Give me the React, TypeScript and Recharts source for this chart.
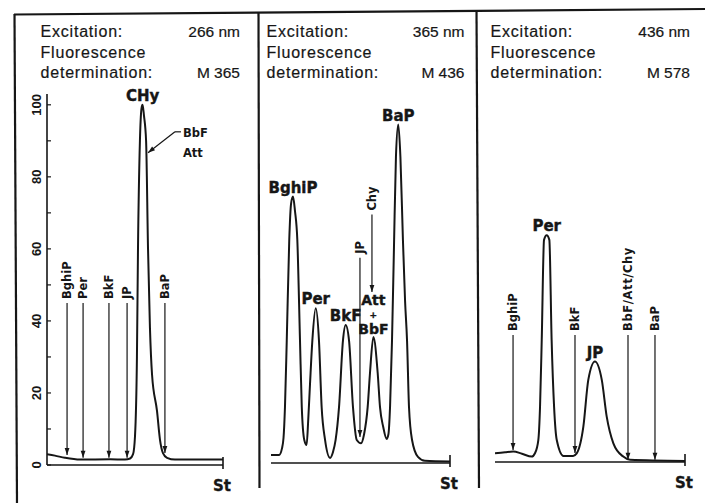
import React from "react";
import { LineChart, Line, XAxis, YAxis, ReferenceLine, ReferenceDot } from "recharts";

const INK = "#161616";
const HEAD_FONT = "'Liberation Sans', Arial, sans-serif";
const TAG_FONT = "'DejaVu Sans', sans-serif";

// header texts of the three runs
const excitation = ["266 nm", "365 nm", "436 nm"];
const emission = ["M 365", "M 436", "M 578"];

// intensity scale (left panel only)
const scaleTicks = [0, 10, 20, 30, 40, 50, 60, 70, 80, 90, 100];

// run A: excitation 266 nm (relative position 0..100 along the plate, intensity %)
const posA = [0, 4.5, 10.2, 18.8, 35.8, 44.3, 47.2, 48.9, 50.0, 51.1, 51.7, 52.8, 53.7, 54.3, 55.1, 56.3, 57.4, 58.5, 59.7, 62.5, 64.2, 65.9, 68.2, 72.7, 100];
const sigA = [3, 2.6, 2.0, 1.5, 1.6, 1.5, 1.8, 3, 8, 30, 60, 90, 99, 100, 97, 90, 60, 38, 25, 15, 7, 3.3, 2, 1.5, 1.5];

// run B: excitation 365 nm
const posB = [0, 4.5, 6.1, 7.0, 7.8, 8.8, 10.2, 11.2, 12.3, 13.4, 14.7, 16.2, 17.2, 18.6, 19.9, 20.8, 21.8, 23.1, 25.0, 26.8, 28.3, 30.2, 33.0, 34.6, 36.1, 38.0, 40.2, 41.7, 43.6, 45.8, 47.9, 50.3, 52.0, 54.0, 55.3, 57.2, 59.6, 60.9, 62.7, 64.6, 65.6, 66.5, 67.6, 68.7, 69.8, 71.1, 72.3, 73.7, 74.9, 76.0, 77.1, 78.8, 82.1, 86.0, 100];
const sigB = [2.2, 2.2, 4, 7, 15.5, 34, 62, 72, 74, 70, 62, 34, 15.5, 6.4, 5, 12, 22, 34, 43, 34, 15.5, 6.4, 1.4, 3, 6.4, 15.5, 34, 38.3, 34, 15.5, 6.4, 5.5, 8, 15.5, 25, 35, 25, 15.5, 10, 6.7, 8, 15.5, 34, 60, 85, 94, 85, 62, 45, 34, 15.5, 6.4, 1.7, 0.6, 0.4];

// run C: excitation 436 nm
const posC = [0, 5.3, 9.6, 14.2, 19.3, 21.1, 22.8, 23.7, 24.6, 25.8, 27.2, 28.6, 29.8, 31.1, 32.5, 36.0, 41.1, 43.0, 46.5, 49.1, 52.6, 56.2, 58.8, 62.3, 67.5, 71.1, 100];
const sigC = [2.4, 2.7, 2.9, 2.3, 1.5, 2.5, 6.1, 15.3, 34, 61.7, 63, 61.7, 34, 15.3, 6.1, 1.7, 1.7, 2.4, 9.8, 22.8, 27.9, 22.8, 12.6, 5.2, 1.5, 0.6, 0.3];

// expected positions of compounds (arrows): position, arrow start, arrow tip
const markersA = [
  { name: "BghiP", x: 11.4, from: 45, to: 2.8 },
  { name: "Per", x: 20.5, from: 45, to: 2.0 },
  { name: "BkF", x: 35.2, from: 45, to: 2.0 },
  { name: "JP", x: 45.5, from: 45, to: 2.0 },
  { name: "BaP", x: 67.0, from: 45, to: 3.3 },
];
const markersB = [
  { name: "JP", x: 49.7, from: 57, to: 7.2 },
  { name: "Chy", x: 56.4, from: 69, to: 47.5 },
];
const markersC = [
  { name: "BghiP", x: 9.5, from: 35.3, to: 3.3 },
  { name: "BkF", x: 42.1, from: 35.3, to: 2.5 },
  { name: "BbF/Att/Chy", x: 70.0, from: 35.3, to: 0.6 },
  { name: "BaP", x: 84.2, from: 35.3, to: 0.6 },
];

// identified peaks
const peaksA = [{ lines: ["CHy"], x: 54.3, y: 100 }];
const peaksB = [
  { lines: ["BghiP"], x: 12.3, y: 74 },
  { lines: ["Per"], x: 25.0, y: 43 },
  { lines: ["BkF"], x: 41.7, y: 38.3 },
  { lines: ["Att", "+", "BbF"], x: 57.2, y: 35 },
  { lines: ["BaP"], x: 71.1, y: 94 },
];
const peaksC = [
  { lines: ["Per"], x: 27.2, y: 63 },
  { lines: ["JP"], x: 52.6, y: 27.9 },
];

// shoulder note on run A
const noteA = { lines: ["BbF", "Att"], start: { x: 76.1, y: 92.5 }, bend: { x: 72.7, y: 92.5 }, tip: { x: 57.4, y: 86.7 } };

const toRows = (pos: number[], sig: number[]) => pos.map((t, i) => ({ t, v: sig[i] }));

function headPath(x1: number, y1: number, x2: number, y2: number, len = 7, half = 2.4) {
  const a = Math.atan2(y2 - y1, x2 - x1);
  const bx = x2 - len * Math.cos(a);
  const by = y2 - len * Math.sin(a);
  const px = -Math.sin(a) * half;
  const py = Math.cos(a) * half;
  return `M${x2},${y2}L${bx + px},${by + py}L${bx - px},${by - py}Z`;
}

function Pointer(props: any) {
  const { x1, y1, x2, y2, text, head = true } = props;
  if (x1 == null || y1 == null) return <g />;
  return (
    <g>
      <line x1={x1} y1={y1} x2={x2} y2={y2} stroke={INK} strokeWidth={1.2} />
      {head && <path d={headPath(x1, y1, x2, y2)} fill={INK} />}
      {text && (
        <text
          transform={`translate(${x1},${y1 - 4}) rotate(-90)`}
          dy="0.36em"
          fontFamily={TAG_FONT}
          fontWeight={700}
          fontSize={11.5}
          letterSpacing={text.length > 6 ? 0.6 : 0}
          fill={INK}
        >
          {text}
        </text>
      )}
    </g>
  );
}

function PeakName({ cx, cy, lines }: any) {
  const n = lines.length;
  if (n === 1) {
    return (
      <text x={cx} y={cy - 4} textAnchor="middle" fontFamily={TAG_FONT} fontWeight={700} fontSize={15} fill={INK} stroke={INK} strokeWidth={0.4}>
        {lines[0]}
      </text>
    );
  }
  // stacked: top name, small plus, bottom name
  const ys = [cy - 32, cy - 19.5, cy - 3];
  return (
    <g>
      {lines.map((s: string, i: number) => (
        <text
          key={i}
          x={cx}
          y={ys[i]}
          textAnchor="middle"
          fontFamily={TAG_FONT}
          fontWeight={700}
          fontSize={s === "+" ? 9 : 14}
          fill={INK}
          stroke={INK}
          strokeWidth={0.4}
        >
          {s}
        </text>
      ))}
    </g>
  );
}

function EndTick({ x, y }: any) {
  return (
    <g>
      <line x1={x} y1={y - 8} x2={x} y2={y + 4} stroke={INK} strokeWidth={1.6} />
      <text x={x - 1} y={y + 26} textAnchor="middle" fontFamily={TAG_FONT} fontWeight={700} fontSize={15} fill={INK} stroke={INK} strokeWidth={0.3}>
        St
      </text>
    </g>
  );
}

function ScaleTick({ x, y, payload }: any) {
  return (
    <g>
      <line x1={x} y1={y} x2={x + 4} y2={y} stroke={INK} strokeWidth={1.2} />
      {payload.value % 20 === 0 && (
        <text
          transform={`translate(${x - 11},${y}) rotate(-90)`}
          textAnchor="middle"
          dy="0.36em"
          fontFamily={HEAD_FONT}
          fontWeight={700}
          fontSize={13}
          fill={INK}
        >
          {payload.value}
        </text>
      )}
    </g>
  );
}

type Marker = { name: string; x: number; from: number; to: number };
type Peak = { lines: string[]; x: number; y: number };

function Run(props: {
  rows: { t: number; v: number }[];
  markers: Marker[];
  peaks: Peak[];
  left: number;
  width: number;
  margin: { top: number; right: number; bottom: number; left: number };
  yMax: number;
  showScale?: boolean;
  note?: typeof noteA;
}) {
  const { rows, markers, peaks, left, width, margin, yMax, showScale, note } = props;
  return (
    <div style={{ position: "absolute", left, top: 0 }}>
      <LineChart width={width} height={503} data={rows} margin={margin}>
        <XAxis
          type="number"
          dataKey="t"
          domain={[0, 100]}
          ticks={[100]}
          interval={0}
          tickSize={0}
          tickMargin={0}
          tickLine={false}
          height={30}
          axisLine={{ stroke: INK, strokeWidth: 1.6 }}
          tick={(p: any) => <EndTick {...p} />}
          allowDataOverflow
        />
        {showScale ? (
          <YAxis
            type="number"
            domain={[0, yMax]}
            ticks={scaleTicks}
            interval={0}
            tickSize={0}
            tickMargin={0}
            tickLine={false}
            width={30}
            axisLine={{ stroke: INK, strokeWidth: 1.6 }}
            tick={(p: any) => <ScaleTick {...p} />}
            allowDataOverflow
          />
        ) : (
          <YAxis type="number" domain={[0, yMax]} hide allowDataOverflow />
        )}
        <Line type="monotone" dataKey="v" stroke={INK} strokeWidth={2} dot={false} isAnimationActive={false} />
        {markers.map((m) => (
          <ReferenceLine
            key={m.name}
            segment={[
              { x: m.x, y: m.from },
              { x: m.x, y: m.to },
            ]}
            stroke={INK}
            shape={(p: any) => <Pointer {...p} text={m.name} />}
          />
        ))}
        {note && (
          <ReferenceLine
            segment={[note.start, note.bend]}
            stroke={INK}
            shape={(p: any) => (
              <g>
                <Pointer {...p} head={false} />
                {note.lines.map((s, i) => (
                  <text
                    key={s}
                    x={p.x1 + 2}
                    y={p.y1 + 5 + i * 20}
                    fontFamily={TAG_FONT}
                    fontWeight={700}
                    fontSize={11.5}
                    fill={INK}
                  >
                    {s}
                  </text>
                ))}
              </g>
            )}
          />
        )}
        {note && (
          <ReferenceLine segment={[note.bend, note.tip]} stroke={INK} shape={(p: any) => <Pointer {...p} />} />
        )}
        {peaks.map((p) => (
          <ReferenceDot
            key={p.lines.join("")}
            x={p.x}
            y={p.y}
            r={0}
            shape={(d: any) => <PeakName cx={d.cx} cy={d.cy} lines={p.lines} />}
          />
        ))}
      </LineChart>
    </div>
  );
}

function Frame() {
  const lefts = [40.5, 266.5, 490.5];
  const rights = [240, 464.5, 690];
  const base = [37, 57.5, 78];
  const common = { fontFamily: HEAD_FONT, fontSize: 16, fill: INK, stroke: INK, strokeWidth: 0.2 };
  return (
    <svg width={705} height={503} style={{ position: "absolute", left: 0, top: 0 }}>
      <line x1={14} y1={14.5} x2={705} y2={9} stroke={INK} strokeWidth={2.2} />
      <line x1={14.5} y1={14} x2={17} y2={503} stroke={INK} strokeWidth={2.2} />
      <line x1={258.5} y1={13} x2={259.5} y2={488} stroke={INK} strokeWidth={2.2} />
      <line x1={476.5} y1={10} x2={479} y2={488} stroke={INK} strokeWidth={2.2} />
      {lefts.map((lx, i) => (
        <g key={i}>
          <text x={lx} y={base[0]} letterSpacing={0.8} {...common}>
            Excitation:
          </text>
          <text x={lx} y={base[1]} letterSpacing={0.8} {...common}>
            Fluorescence
          </text>
          <text x={lx} y={base[2]} letterSpacing={0.8} {...common}>
            determination:
          </text>
          <text x={rights[i]} y={base[0]} textAnchor="end" {...common} fontSize={15.5}>
            {excitation[i]}
          </text>
          <text x={rights[i]} y={base[2]} textAnchor="end" {...common} fontSize={15.5}>
            {emission[i]}
          </text>
        </g>
      ))}
    </svg>
  );
}

export default function App() {
  return (
    <div style={{ position: "absolute", left: 0, top: 0, width: 705, height: 503, background: "#fff", overflow: "hidden" }}>
      <Frame />
      <Run
        rows={toRows(posA, sigA)}
        markers={markersA}
        peaks={peaksA}
        note={noteA}
        left={0}
        width={260}
        margin={{ top: 94, right: 37, bottom: 8, left: 17 }}
        yMax={103}
        showScale
      />
      <Run
        rows={toRows(posB, sigB)}
        markers={markersB}
        peaks={peaksB}
        left={260}
        width={215}
        margin={{ top: 103, right: 25, bottom: 10, left: 11 }}
        yMax={100}
      />
      <Run
        rows={toRows(posC, sigC)}
        markers={markersC}
        peaks={peaksC}
        left={478}
        width={227}
        margin={{ top: 102, right: 20, bottom: 11, left: 17 }}
        yMax={100}
      />
    </div>
  );
}
